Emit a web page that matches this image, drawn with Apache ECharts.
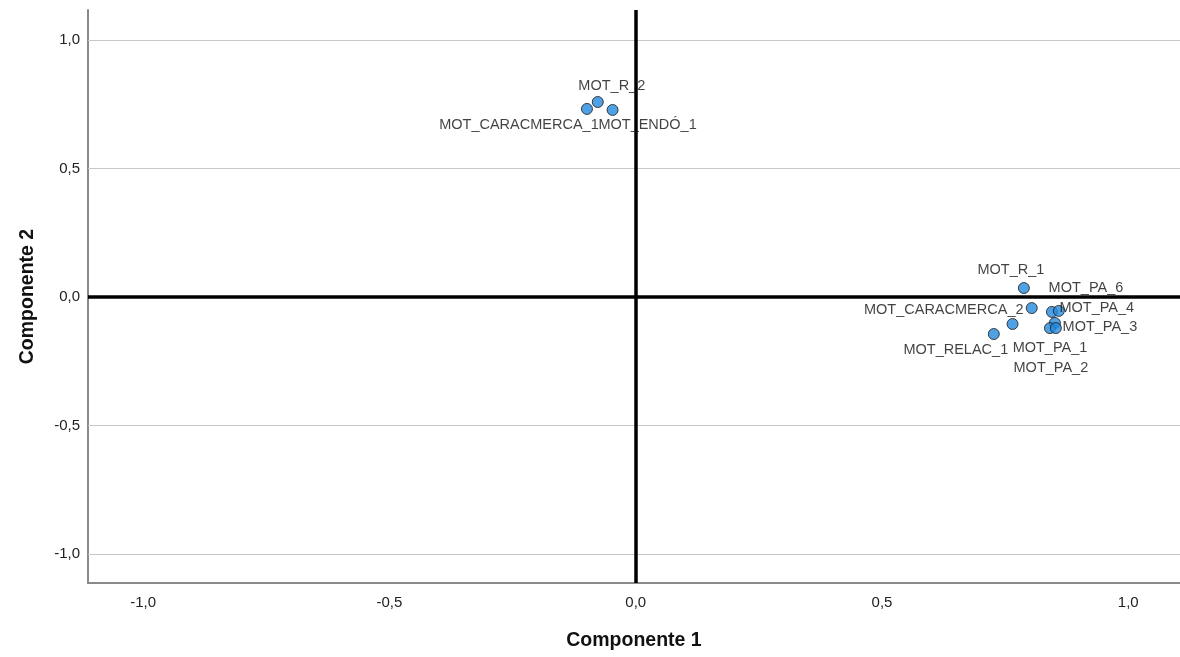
<!DOCTYPE html>
<html>
<head>
<meta charset="utf-8">
<script src="https://cdn.jsdelivr.net/npm/echarts@6/dist/echarts.min.js"></script>
<style>
  html, body { margin: 0; padding: 0; background: #fff; }
  #chart { width: 1180px; height: 657px; }
</style>
</head>
<body>
<div id="chart"></div>
<script>
// Component loadings (rotated component plot)
const variables = [
  'MOT_R_2', 'MOT_CARACMERCA_1', 'MOT_ENDÓ_1',
  'MOT_R_1', 'MOT_CARACMERCA_2', 'MOT_PA_6', 'MOT_PA_4',
  'MOT_PA_3', 'MOT_PA_1', 'MOT_PA_2', 'MOT_PA_5', 'MOT_RELAC_1'
];
const component1 = [-0.077, -0.099, -0.047, 0.788, 0.804, 0.845, 0.859, 0.851, 0.841, 0.853, 0.765, 0.727];
const component2 = [0.759, 0.732, 0.728, 0.035, -0.043, -0.058, -0.054, -0.101, -0.121, -0.121, -0.105, -0.144];
const tickValues = [-1.0, -0.5, 0.0, 0.5, 1.0];
const gridValues = [-1.0, -0.5, 0.5, 1.0];

// label placement around each marker (pixels, from marker centre); null = no label
const labelOffsets = {
  'MOT_R_2': [14, -16],
  'MOT_CARACMERCA_1': [-68, 16],
  'MOT_ENDÓ_1': [35, 15],
  'MOT_R_1': [-13, -18],
  'MOT_CARACMERCA_2': [-88, 2],
  'MOT_PA_6': [34, -24],
  'MOT_PA_4': [38, -3],
  'MOT_PA_3': [45, 4],
  'MOT_PA_1': [0, 20],
  'MOT_PA_2': [-5, 40],
  'MOT_PA_5': null,
  'MOT_RELAC_1': [-38, 16]
};

const fmt = v => v.toFixed(1).replace('.', ',');
const FONT = '"Liberation Sans", Arial, sans-serif';

const points = variables.map((name, i) => {
  const off = labelOffsets[name];
  return {
    name: name,
    value: [component1[i], component2[i]],
    label: off ? { show: true, position: 'inside', offset: off } : { show: false }
  };
});

const chart = echarts.init(document.getElementById('chart'), null, { renderer: 'canvas' });
chart.setOption({
  animation: false,
  backgroundColor: '#ffffff',
  grid: { left: 88, right: 0, top: 10, bottom: 74, containLabel: false, outerBoundsMode: 'none' },
  xAxis: {
    type: 'value',
    min: -1.112, max: 1.105,
    name: 'Componente 1',
    nameLocation: 'middle',
    nameGap: 48,
    nameTextStyle: { fontFamily: FONT, fontSize: 19.5, fontWeight: 'bold', color: '#111' },
    axisLine: { show: true, onZero: false, lineStyle: { color: '#8a8a8a', width: 2 } },
    axisTick: { show: false },
    splitLine: { show: false },
    axisLabel: {
      customValues: tickValues,
      formatter: fmt,
      margin: 12,
      fontFamily: FONT, fontSize: 15, color: '#222'
    }
  },
  yAxis: {
    type: 'value',
    min: -1.113, max: 1.117,
    name: 'Componente 2',
    nameLocation: 'middle',
    nameRotate: 90,
    nameGap: 50,
    nameTextStyle: { fontFamily: FONT, fontSize: 19.5, fontWeight: 'bold', color: '#111' },
    axisLine: { show: true, onZero: false, lineStyle: { color: '#8a8a8a', width: 2 } },
    axisTick: { show: false },
    splitLine: { show: false },
    axisLabel: {
      customValues: tickValues,
      formatter: fmt,
      margin: 8,
      fontFamily: FONT, fontSize: 15, color: '#222'
    }
  },
  series: [
    {
      // horizontal reference lines and the two zero axes
      type: 'scatter',
      data: [],
      silent: true,
      markLine: {
        silent: true,
        symbol: 'none',
        label: { show: false },
        animation: false,
        data: gridValues.map(v => ({ yAxis: v, lineStyle: { color: '#c8c8c8', width: 1, type: 'solid' } }))
          .concat([
            { yAxis: 0, lineStyle: { color: '#000', width: 3.5, type: 'solid' } },
            { xAxis: 0, lineStyle: { color: '#000', width: 3.5, type: 'solid' } }
          ])
      }
    },
    {
      type: 'scatter',
      symbol: 'circle',
      symbolSize: 11,
      z: 5,
      itemStyle: { color: '#2389dc', borderColor: '#1a1a1a', borderWidth: 1 },
      label: {
        fontFamily: FONT, fontSize: 14.5, color: '#111',
        formatter: p => p.name
      },
      data: points
    }
  ]
});
</script>
</body>
</html>
